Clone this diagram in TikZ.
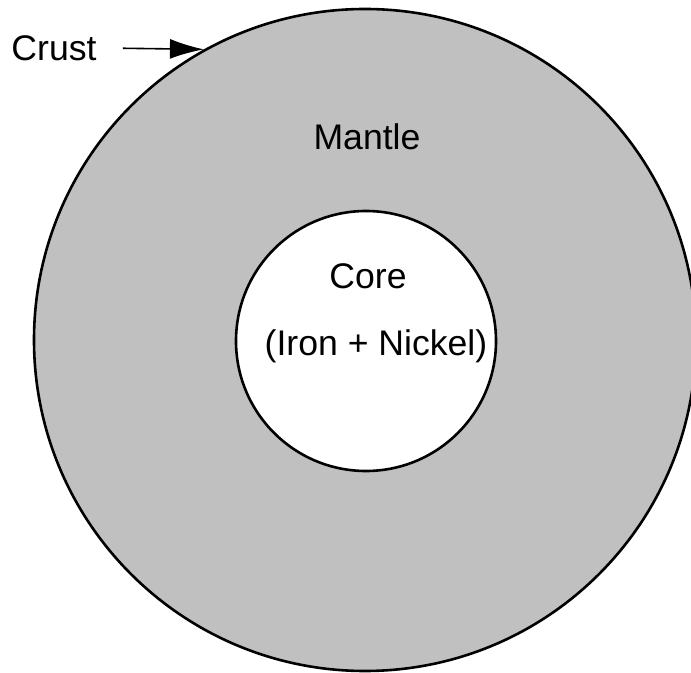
\documentclass[tikz,border=0pt]{standalone}
\usepackage{fontspec}
\setmainfont{Liberation Sans}
\usetikzlibrary{arrows.meta,positioning}
\definecolor{earthMantle}{RGB}{192,192,192}
\definecolor{earthLine}{RGB}{0,0,0}
\tikzset{
    layer/.style={
        circle,
        draw=earthLine,
        line width=1.3pt,
        inner sep=0pt
    },
    % Semantic Variants
    mantle/.style={layer, fill=earthMantle, minimum size=331pt},
    core/.style={layer, fill=white, minimum size=130pt},
    lbl/.style={font=\fontsize{17.8}{20}\selectfont, inner sep=3pt},
    % Arrows
    crustArrow/.style={-{Latex[length=17pt, width=10pt]}, line width=0.8pt, draw=earthLine}
}
\begin{document}
\begin{tikzpicture}[x=0.5pt, y=-0.5pt]
\useasboundingbox[fill=white] (0,0) rectangle (691,673);
\node[mantle] (earth) at (365,340) {};
\node[core] (core) at (366,341) {};

\node[lbl] (mantleLbl) at (367,137) {Mantle};
\node[lbl] (coreLbl) at (368,276) {Core};
\node[lbl] (ironLbl) at (376,346) {(Iron + Nickel)};
\node[lbl] (crust) at (54,48) {Crust};

\draw[crustArrow, shorten <=10pt] (crust.east) -- (earth.119);
\end{tikzpicture}
\end{document}
